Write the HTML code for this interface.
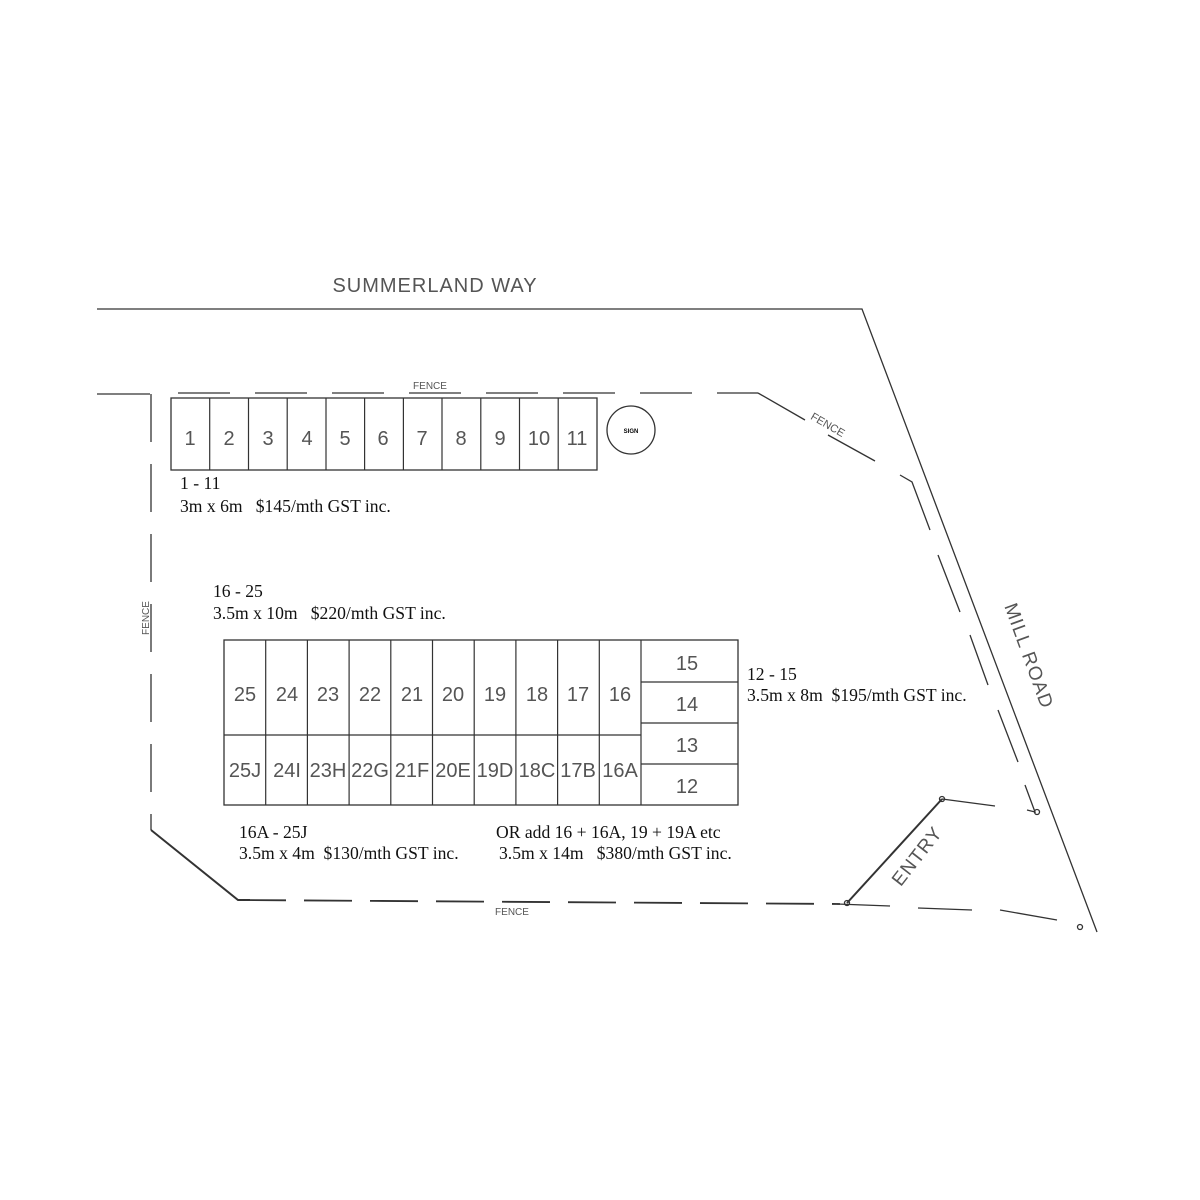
<!DOCTYPE html>
<html><head><meta charset="utf-8"><style>
html,body{margin:0;padding:0;background:#fff;}
svg{display:block}
.d{font-family:"Liberation Sans",sans-serif;fill:#555;font-weight:normal}
.n{font-family:"Liberation Serif",serif;fill:#111;font-size:17.6px}
</style></head><body>
<svg width="1200" height="1200" viewBox="0 0 1200 1200" xmlns="http://www.w3.org/2000/svg">
<rect width="1200" height="1200" fill="#fff"/>
<g stroke="#333" stroke-width="1.3" fill="none">
<polyline points="97,309 862,309 1097,932"/>
<line x1="97" y1="394" x2="150" y2="394"/>
<line x1="178" y1="393" x2="750" y2="393" stroke-dasharray="52,25"/>
<line x1="750" y1="393" x2="758" y2="393"/>
<line x1="758" y1="393" x2="805" y2="420"/>
<line x1="828" y1="435" x2="875" y2="461"/>
<polyline points="900,475 912,482 930,530"/>
<line x1="938" y1="555" x2="960" y2="612"/>
<line x1="970" y1="635" x2="988" y2="685"/>
<line x1="998" y1="710" x2="1018" y2="762"/>
<polyline points="1025,785 1035,812 1027,810"/>
<line x1="151" y1="394" x2="151" y2="830" stroke-dasharray="48,22"/>
<polyline points="151,830 238,900 250,900" stroke-width="2"/>
<line x1="238" y1="900" x2="840" y2="904" stroke-dasharray="48,18" stroke-width="1.8"/>
<line x1="837" y1="904" x2="890" y2="906"/>
<line x1="918" y1="908" x2="972" y2="910"/>
<line x1="1000" y1="910" x2="1057" y2="920"/>
<line x1="847" y1="903" x2="942" y2="799" stroke-width="2"/>
<line x1="942" y1="799" x2="995" y2="806"/>
<circle cx="847" cy="903" r="2.5"/><circle cx="942" cy="799" r="2.5"/>
<circle cx="1037" cy="812" r="2.5"/><circle cx="1080" cy="927" r="2.5"/>
<rect x="171" y="398" width="426" height="72"/>
<circle cx="631" cy="430" r="24"/>
<rect x="224" y="640" width="514" height="165"/>
<line x1="224" y1="735" x2="641" y2="735"/>
<line x1="641" y1="682" x2="738" y2="682"/>
<line x1="641" y1="723" x2="738" y2="723"/>
<line x1="641" y1="764" x2="738" y2="764"/>
</g>
<g stroke="#333" stroke-width="1.2">
<line x1="209.7" y1="398" x2="209.7" y2="470"/><line x1="248.5" y1="398" x2="248.5" y2="470"/>
<line x1="287.2" y1="398" x2="287.2" y2="470"/><line x1="326" y1="398" x2="326" y2="470"/>
<line x1="364.6" y1="398" x2="364.6" y2="470"/><line x1="403.4" y1="398" x2="403.4" y2="470"/>
<line x1="442" y1="398" x2="442" y2="470"/><line x1="480.8" y1="398" x2="480.8" y2="470"/>
<line x1="519.5" y1="398" x2="519.5" y2="470"/><line x1="558.2" y1="398" x2="558.2" y2="470"/>
<line x1="265.7" y1="640" x2="265.7" y2="805"/><line x1="307.4" y1="640" x2="307.4" y2="805"/>
<line x1="349.1" y1="640" x2="349.1" y2="805"/><line x1="390.8" y1="640" x2="390.8" y2="805"/>
<line x1="432.5" y1="640" x2="432.5" y2="805"/><line x1="474.2" y1="640" x2="474.2" y2="805"/>
<line x1="515.9" y1="640" x2="515.9" y2="805"/><line x1="557.6" y1="640" x2="557.6" y2="805"/>
<line x1="599.3" y1="640" x2="599.3" y2="805"/><line x1="641" y1="640" x2="641" y2="805"/>
</g>
<text class="d" x="435" y="292" font-size="20" text-anchor="middle" letter-spacing="1">SUMMERLAND WAY</text>
<text class="d" x="430" y="389" font-size="10" text-anchor="middle">FENCE</text>
<text class="d" x="512" y="915" font-size="10" text-anchor="middle">FENCE</text>
<text class="d" font-size="10" text-anchor="middle" transform="translate(149,618) rotate(-90)">FENCE</text>
<text class="d" font-size="11" text-anchor="middle" transform="translate(826,428) rotate(30)">FENCE</text>
<text class="d" font-size="19" text-anchor="middle" letter-spacing="1" transform="translate(1023,658) rotate(70)">MILL ROAD</text>
<text class="d" font-size="19" text-anchor="middle" letter-spacing="1" transform="translate(922,860) rotate(-52)">ENTRY</text>
<text x="631" y="433" font-size="6" text-anchor="middle" font-family="Liberation Sans" font-weight="bold">SIGN</text>
<g class="d" font-size="20" text-anchor="middle">
<text x="190" y="445">1</text><text x="229" y="445">2</text><text x="268" y="445">3</text><text x="307" y="445">4</text><text x="345" y="445">5</text><text x="383" y="445">6</text><text x="422" y="445">7</text><text x="461" y="445">8</text><text x="500" y="445">9</text><text x="539" y="445">10</text><text x="577" y="445">11</text>
<text x="245" y="701">25</text><text x="287" y="701">24</text><text x="328" y="701">23</text><text x="370" y="701">22</text><text x="412" y="701">21</text><text x="453" y="701">20</text><text x="495" y="701">19</text><text x="537" y="701">18</text><text x="578" y="701">17</text><text x="620" y="701">16</text>
<text x="245" y="777">25J</text><text x="287" y="777">24I</text><text x="328" y="777">23H</text><text x="370" y="777">22G</text><text x="412" y="777">21F</text><text x="453" y="777">20E</text><text x="495" y="777">19D</text><text x="537" y="777">18C</text><text x="578" y="777">17B</text><text x="620" y="777">16A</text>
<text x="687" y="670">15</text><text x="687" y="711">14</text><text x="687" y="752">13</text><text x="687" y="793">12</text>
</g>
<text class="n" x="180" y="489">1 - 11</text>
<text class="n" x="180" y="512">3m x 6m&#160;&#160; $145/mth GST inc.</text>
<text class="n" x="213" y="597">16 - 25</text>
<text class="n" x="213" y="619">3.5m x 10m&#160;&#160; $220/mth GST inc.</text>
<text class="n" x="747" y="680">12 - 15</text>
<text class="n" x="747" y="701">3.5m x 8m&#160; $195/mth GST inc.</text>
<text class="n" x="239" y="838">16A - 25J</text>
<text class="n" x="239" y="859">3.5m x 4m&#160; $130/mth GST inc.</text>
<text class="n" x="496" y="838">OR add 16 + 16A, 19 + 19A etc</text>
<text class="n" x="499" y="859">3.5m x 14m&#160;&#160; $380/mth GST inc.</text>
</svg>
</body></html>
